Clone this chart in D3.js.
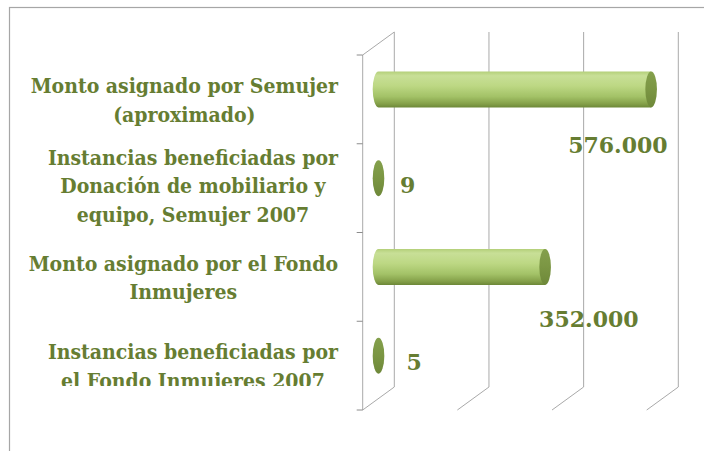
<!DOCTYPE html>
<html>
<head>
<meta charset="utf-8">
<script src="https://cdn.jsdelivr.net/npm/d3@7"></script>
<style>
  html, body { margin: 0; padding: 0; background: #ffffff; }
  svg { display: block; }
</style>
</head>
<body>
<script>
// ---------------- data ----------------
const categories = [
  "Monto asignado por Semujer (aproximado)",
  "Instancias beneficiadas por Donación de mobiliario y equipo, Semujer 2007",
  "Monto asignado por el Fondo Inmujeres",
  "Instancias beneficiadas por el Fondo Inmujeres 2007"
];
const categoryLines = [
  ["Monto asignado por Semujer", "(aproximado)"],
  ["Instancias beneficiadas por", "Donación de mobiliario y", "equipo, Semujer 2007"],
  ["Monto asignado por el Fondo", "Inmujeres"],
  ["Instancias beneficiadas por", "el Fondo Inmujeres 2007"]
];
const values = [576000, 9, 352000, 5];
const xTicks = [0, 200000, 400000, 600000];

// ---------------- layout ----------------
const W = 704, H = 451;
const depth = { dx: 31.6, dy: -23 };
const labelOffsets = [[-83, 63.5], [21.5, 15], [-6, 60], [28, 14.5]];
const textColor = "#667d32";

const locale = d3.formatLocale({ decimal: ",", thousands: ".", grouping: [3], currency: ["", ""] });
const fmt = locale.format(",");

const svg = d3.select("body").append("svg").attr("width", W).attr("height", H);

const defs = svg.append("defs");
const bodyGrad = defs.append("linearGradient").attr("id", "body")
  .attr("x1", 0).attr("y1", 0).attr("x2", 0).attr("y2", 1);
[[0, "#b3cf78"], [0.12, "#c8df97"], [0.4, "#bdd884"], [0.7, "#a3c267"], [0.9, "#84a049"], [1, "#6d8838"]]
  .forEach(([o, c]) => bodyGrad.append("stop").attr("offset", o).attr("stop-color", c));
const capGrad = defs.append("linearGradient").attr("id", "cap")
  .attr("x1", 0).attr("y1", 0).attr("x2", 0).attr("y2", 1);
[[0, "#84a04c"], [0.5, "#7b9643"], [1, "#6e8839"]]
  .forEach(([o, c]) => capGrad.append("stop").attr("offset", o).attr("stop-color", c));
defs.append("clipPath").attr("id", "labclip").append("rect")
  .attr("x", 0).attr("y", 0).attr("width", 350).attr("height", 386);

// outer chart border (extends beyond the window)
svg.append("rect").attr("x", 9.5).attr("y", 7.5).attr("width", 800).attr("height", 600)
  .attr("fill", "none").attr("stroke", "#a6a6a6").attr("stroke-width", 1.2);

// scales (front plane)
const x = d3.scaleLinear().domain([0, 600000]).range([362.7, 646.7]);
const y = d3.scaleBand().domain(categories).range([55, 410]).padding(0);
const [yTop, yBot] = y.range();

const grid = svg.append("g").attr("stroke", "#a9a9a9").attr("stroke-width", 1).attr("fill", "none");
// back wall gridlines
grid.selectAll("line.back").data(xTicks).join("line").attr("class", "back")
  .attr("x1", d => x(d) + depth.dx).attr("x2", d => x(d) + depth.dx)
  .attr("y1", yTop + depth.dy).attr("y2", yBot + depth.dy);
// floor lines
grid.selectAll("line.floor").data(xTicks).join("line").attr("class", "floor")
  .attr("x1", d => x(d) + depth.dx).attr("y1", yBot + depth.dy)
  .attr("x2", d => x(d)).attr("y2", yBot);
// left wall
grid.append("line").attr("x1", x(0)).attr("x2", x(0)).attr("y1", yTop).attr("y2", yBot);
grid.append("line").attr("x1", x(0)).attr("y1", yTop).attr("x2", x(0) + depth.dx).attr("y2", yTop + depth.dy);
const bounds = categories.map(c => y(c)).concat([yBot]);
grid.selectAll("line.tick").data(bounds).join("line").attr("class", "tick")
  .attr("x1", x(0) - 6).attr("x2", x(0)).attr("y1", d => d).attr("y2", d => d)
  .attr("stroke", "#8c8c8c");

// bars (cylinders at mid depth)
const rx = 5.8, ry = 18;
const bars = svg.append("g");
categories.forEach((c, i) => {
  const x0 = x(0) + depth.dx / 2;
  const x1 = x(values[i]) + depth.dx / 2;
  const cy = y(c) + y.bandwidth() / 2 + depth.dy / 2 + 1.5;
  const g = bars.append("g");
  if (x1 - x0 > 0.5) {
    g.append("path")
      .attr("d", `M${x0},${cy - ry} L${x1},${cy - ry} L${x1},${cy + ry} L${x0},${cy + ry} A${rx},${ry} 0 0 1 ${x0},${cy - ry} Z`)
      .attr("fill", "url(#body)");
  }
  g.append("ellipse").attr("cx", x1).attr("cy", cy).attr("rx", rx).attr("ry", ry)
    .attr("fill", "url(#cap)");
  // data label
  svg.append("text")
    .attr("x", x1 + labelOffsets[i][0]).attr("y", cy + labelOffsets[i][1])
    .attr("font-family", "'DejaVu Serif', serif").attr("font-weight", "bold")
    .attr("font-size", 22).attr("fill", textColor)
    .text(fmt(values[i]));
});

// category labels
const labG = svg.append("g").attr("clip-path", "url(#labclip)");
const lh = 28.5;
categories.forEach((c, i) => {
  const lines = categoryLines[i];
  const cy = y(c) + y.bandwidth() / 2;
  const g = labG.append("g");
  const t = g.selectAll("text").data(lines).join("text")
    .attr("text-anchor", "middle")
    .attr("y", (d, k) => cy + (k - (lines.length - 1) / 2) * lh + 8 - (lines.length > 2 ? 3 : 0))
    .attr("font-family", "'DejaVu Serif Condensed', 'DejaVu Serif', serif")
    .style("font-stretch", "condensed")
    .attr("font-weight", "bold").attr("font-size", 21).attr("fill", textColor)
    .text(d => d);
  let maxW = 0;
  t.each(function () { maxW = Math.max(maxW, this.getComputedTextLength()); });
  t.attr("x", 338 - maxW / 2);
});
</script>
</body>
</html>
